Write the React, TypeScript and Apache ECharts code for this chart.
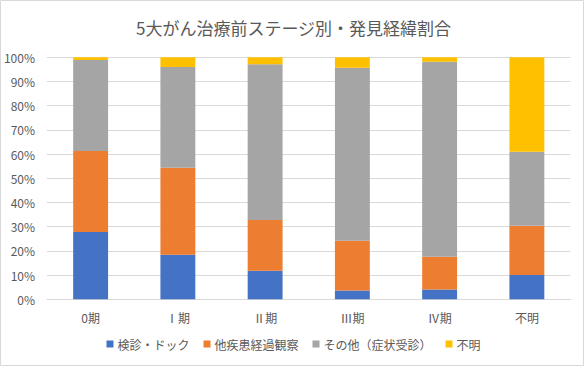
import React, { useEffect, useRef } from "react";
import * as echarts from "echarts";

const categories = ["0期", "Ⅰ期", "Ⅱ期", "Ⅲ期", "Ⅳ期", "不明"];
const seriesNames = ["検診・ドック", "他疾患経過観察", "その他（症状受診）", "不明"];
const kenshin = [27.8, 18.4, 11.8, 3.6, 4.0, 10.0];
const takanja = [33.5, 36.0, 21.0, 20.6, 13.6, 20.4];
const sonota = [37.6, 41.6, 64.3, 71.5, 80.6, 30.6];
const fumei = [1.1, 4.0, 2.9, 4.3, 1.8, 39.0];
const colors = ["#4472C4", "#ED7D31", "#A5A5A5", "#FFC000"];

const FONT = "'Noto Sans CJK JP', 'Noto Sans', sans-serif";

export default function App() {
  const ref = useRef<HTMLDivElement>(null);
  useEffect(() => {
    if (!ref.current) return;
    const chart = echarts.init(ref.current, undefined, { renderer: "svg" });
    const dataSets = [kenshin, takanja, sonota, fumei];
    chart.setOption({
      animation: false,
      backgroundColor: "#ffffff",
      textStyle: { fontFamily: FONT },
      title: {
        text: "5大がん治療前ステージ別・発見経緯割合",
        left: "center",
        top: 14,
        textStyle: { fontSize: 17, fontWeight: "normal", color: "#595959", fontFamily: FONT },
      },
      graphic: [
        {
          type: "rect",
          shape: { x: 0.5, y: 0.5, width: 583, height: 365 },
          style: { fill: "none", stroke: "#D9D9D9", lineWidth: 1 },
          silent: true,
          z: -1,
        },
      ],
      legend: {
        bottom: 13,
        left: "center",
        itemWidth: 7,
        itemHeight: 7,
        itemGap: 14,
        icon: "rect",
        textStyle: { fontSize: 12, color: "#595959", fontFamily: FONT, padding: [0, 0, 0, -1] },
        data: seriesNames,
      },
      grid: { left: 47, right: 16.5, top: 57.3, bottom: 68.7, containLabel: false },
      xAxis: {
        type: "category",
        data: categories,
        axisLine: { lineStyle: { color: "#D9D9D9" } },
        axisTick: { show: false },
        axisLabel: { color: "#595959", fontSize: 12, margin: 12, fontFamily: FONT },
      },
      yAxis: {
        type: "value",
        min: 0,
        max: 100,
        interval: 10,
        axisLine: { show: false },
        axisTick: { show: false },
        splitLine: { lineStyle: { color: "#D9D9D9" } },
        axisLabel: { color: "#595959", fontSize: 12, margin: 12, formatter: "{value}%", fontFamily: FONT },
      },
      series: seriesNames.map((name, i) => ({
        name,
        type: "bar",
        stack: "total",
        barWidth: "40%",
        data: dataSets[i],
        itemStyle: { color: colors[i] },
      })),
    });
    return () => chart.dispose();
  }, []);
  return (
    <div
      ref={ref}
      style={{ position: "fixed", left: 0, top: 0, width: 587, height: 368 }}
    />
  );
}
